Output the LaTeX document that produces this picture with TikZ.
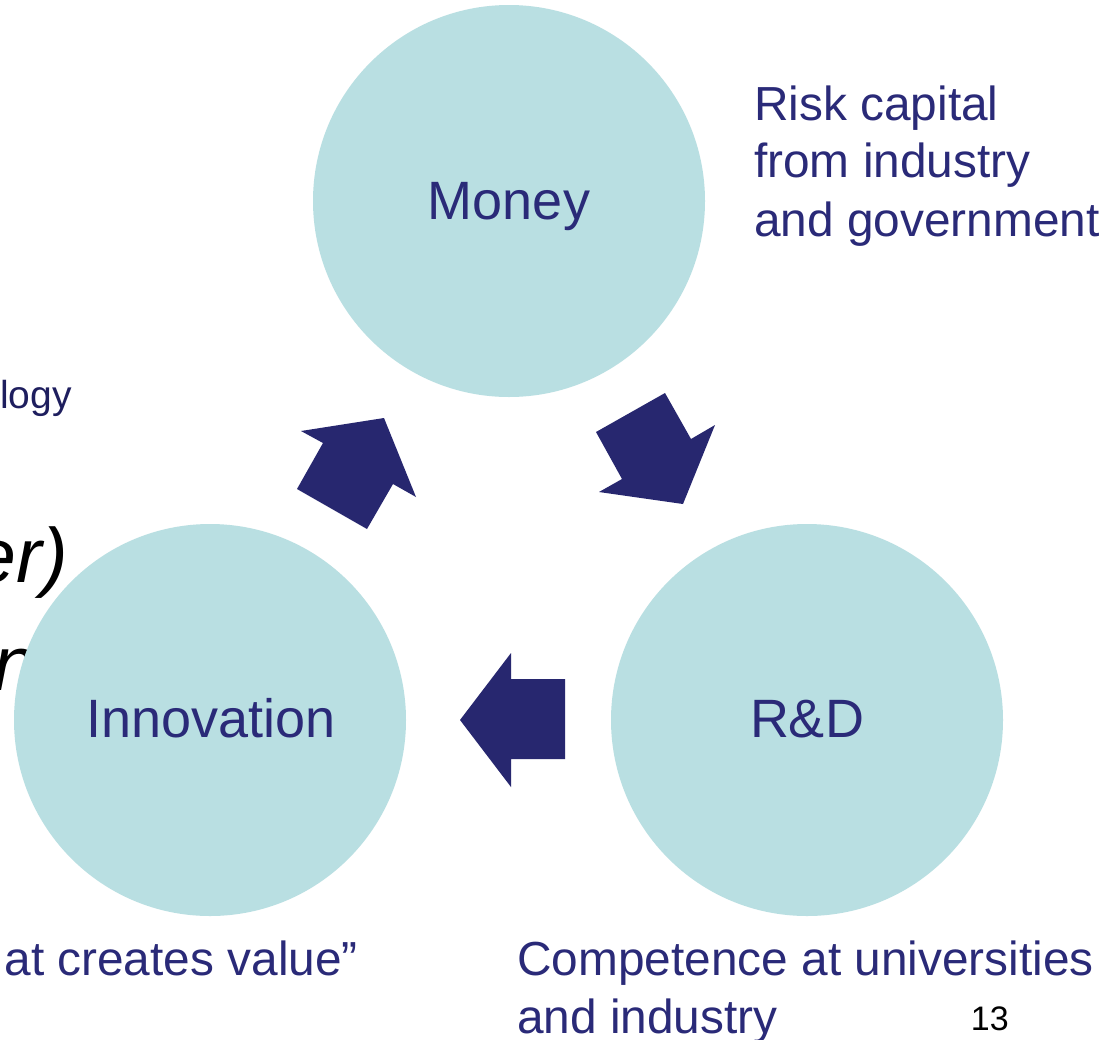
\documentclass[tikz,border=0pt]{standalone}
\usepackage{fontspec}
\setmainfont{Liberation Sans}
\definecolor{circfill}{HTML}{B9DFE2}
\definecolor{arrowfill}{HTML}{27276F}
\definecolor{navytext}{HTML}{2A2A78}
\definecolor{logytext}{HTML}{1E1E5E}
\tikzset{
  circ/.style={circle, fill=circfill, draw=none, minimum size=392pt, inner sep=0pt},
  circlabel/.style={anchor=base, text=navytext, inner sep=0pt, font=\fontsize{54}{65}\selectfont},
  sidelabel/.style={anchor=base west, text=navytext, inner sep=0pt, font=\fontsize{47.8}{58}\selectfont},
  bigital/.style={anchor=base east, text=black, inner sep=0pt, font=\fontsize{77}{90}\selectfont\itshape},
  blockarrow/.style={fill=arrowfill, draw=none},
}
\begin{document}
\begin{tikzpicture}[x=1pt,y=-1pt]
\useasboundingbox (0,0) rectangle (1105,1039);
\fill[white] (0,0) rectangle (1105,1039);
% partially visible texts at the left edge
\begin{scope}
\clip (0,0) rectangle (1105,1039);
\node[anchor=base east, text=logytext, inner sep=0pt, font=\fontsize{39}{46}\selectfont] (logy) at (72,408) {logy};
\node[bigital] (er) at (68,582) {er)};
\node[bigital] (nfrag) at (37,690) {n};
\node[sidelabel, anchor=base east] (value) at (358,975) {at creates value”};
\end{scope}
% circles
\node[circ] (money) at (509,201) {};
\node[circ] (innov) at (210,720) {};
\node[circ] (rd) at (807,720) {};
\node[circlabel] (moneylab) at (509,219) {Money};
\node[circlabel] (innovlab) at (211,737) {Innovation};
\node[circlabel] (rdlab) at (807,737) {R\&D};
% block arrows
\fill[blockarrow] (384,418) -- (416,497) -- (393,484) -- (367,529) -- (297,489) -- (323,443) -- (301,431) -- cycle;
\fill[blockarrow] (596,432) -- (665,393) -- (691,439) -- (715,425) -- (683,504) -- (599,492) -- (622,479) -- cycle;
\fill[blockarrow] (460,720) -- (511,653) -- (511,679) -- (565,679) -- (565,759) -- (511,759) -- (511,787) -- cycle;
% side labels
\node[sidelabel] (risk1) at (754,120) {Risk capital};
\node[sidelabel] (risk2) at (754,177) {from industry};
\node[sidelabel] (risk3) at (754,236) {and government};
\node[sidelabel] (comp1) at (517,975) {Competence at universities};
\node[sidelabel] (comp2) at (517,1033) {and industry};
\node[anchor=base east, inner sep=0pt, text=black, font=\fontsize{34}{40}\selectfont] (pagenum) at (1009,1030) {13};
\end{tikzpicture}
\end{document}
